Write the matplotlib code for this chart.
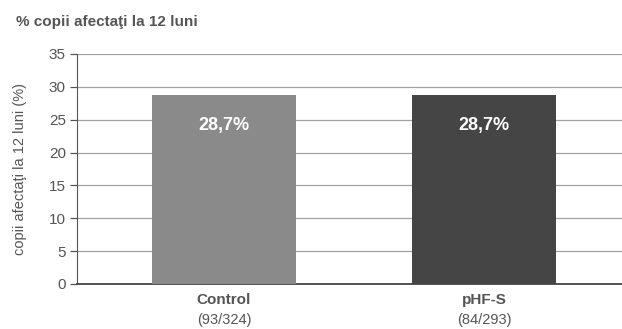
import numpy as np
import matplotlib.pyplot as plt

plt.rcParams['font.family'] = ['Liberation Sans', 'DejaVu Sans']

# date
grupe = ['Control', 'pHF-S']
cazuri = ['(93/324)', '(84/293)']
procente = [28.7, 28.7]
etichete = ['28,7%', '28,7%']
culori = ['#8a8a8a', '#454545']

fig = plt.figure(figsize=(6.22, 3.29), dpi=100)
ax = fig.add_axes([0.1238, 0.1368, 0.8762, 0.6991])

x = np.arange(len(grupe))
bare = ax.bar(x, procente, width=0.555, color=culori, zorder=3)

for xi, v, t in zip(x, procente, etichete):
    ax.text(xi, v - 4.6, t, ha='center', va='center', color='white',
            fontsize=13, fontweight='bold', zorder=4)

ax.set_ylim(0, 35)
ax.set_yticks(range(0, 36, 5))
ax.set_xlim(-0.565, 1.53)
ax.set_xticks([])
ax.yaxis.grid(True, color='#a0a0a0', linewidth=0.9, zorder=0)

for s in ['top', 'right']:
    ax.spines[s].set_visible(False)
ax.spines['left'].set_color('#555555')
ax.spines['bottom'].set_color('#444444')
ax.spines['bottom'].set_linewidth(1.3)
ax.tick_params(axis='y', colors='#555555', labelsize=11, length=5,
               width=0.9, pad=3)

for xi, g, c in zip(x, grupe, cazuri):
    ax.text(xi, -2.4, g, ha='center', va='center', color='#555555',
            fontsize=11, fontweight='bold')
    ax.text(xi, -5.5, c, ha='center', va='center', color='#555555',
            fontsize=10.5)

ax.set_ylabel('copii afectaţi la 12 luni (%)', color='#555555',
              fontsize=10.5, labelpad=16)

fig.text(0.026, 0.933, '% copii afectaţi la 12 luni', color='#555555',
         fontsize=11, fontweight='bold', ha='left', va='center')

fig.savefig('out.png', dpi=100)
